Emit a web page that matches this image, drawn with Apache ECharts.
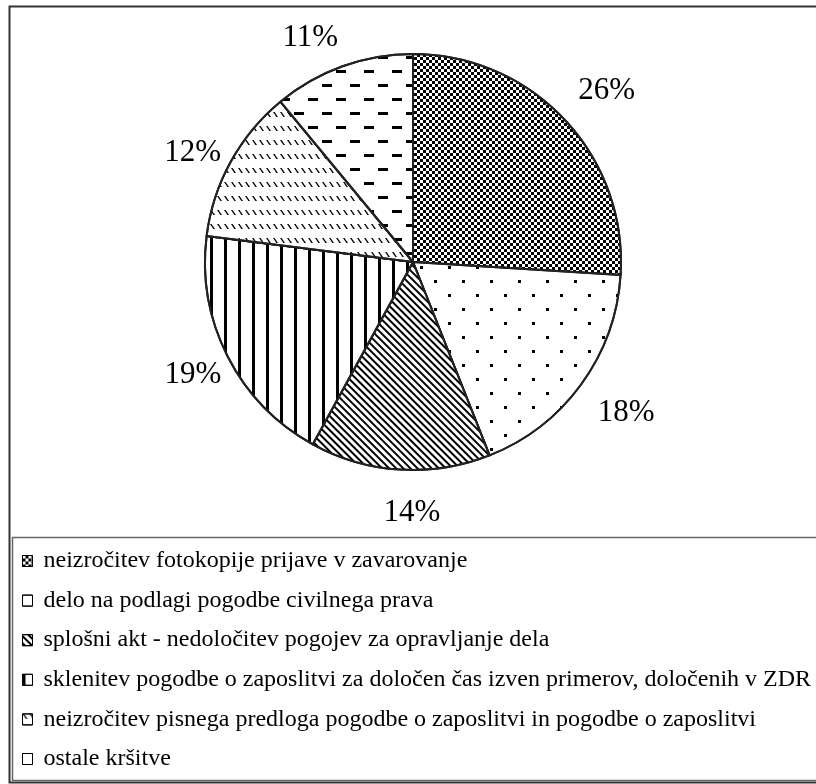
<!DOCTYPE html>
<html>
<head>
<meta charset="utf-8">
<script src="https://cdn.jsdelivr.net/npm/echarts@6/dist/echarts.min.js"></script>
<style>
html,body{margin:0;padding:0;background:#fff;}
#chart{width:816px;height:784px;}
</style>
</head>
<body>
<div id="chart"></div>
<script>
// ---- data ----
var categories = [
  'neizročitev fotokopije prijave v zavarovanje',
  'delo na podlagi pogodbe civilnega prava',
  'splošni akt - nedoločitev pogojev za opravljanje dela',
  'sklenitev pogodbe o zaposlitvi za določen čas izven primerov, določenih v ZDR',
  'neizročitev pisnega predloga pogodbe o zaposlitvi in pogodbe o zaposlitvi',
  'ostale kršitve'
];
var values = [26, 18, 14, 19, 12, 11];

// ---- patterns and label nudges (styles, not data) ----
var decals = [
  {symbol:'rect', symbolSize:1, dashArrayX:[[3,3],[0,3,3,0]], dashArrayY:[3,0], color:'#000'},
  {symbol:'rect', symbolSize:1, dashArrayX:[[3,25],[0,14,3,11]], dashArrayY:[3,11], color:'#000'},
  {symbol:'rect', symbolSize:1, dashArrayX:[20,0], dashArrayY:[1.4,2.2], rotation:Math.PI/4, color:'#000'},
  {symbol:'rect', symbolSize:1, dashArrayX:[3,11], dashArrayY:[14,0], color:'#000'},
  {symbol:'path://M0,0L1.6,0L5,5L3.4,5Z', symbolSize:1, dashArrayX:[5,2], dashArrayY:[5,9], color:'#000'},
  {symbol:'rect', symbolSize:1, dashArrayX:[[10,18],[0,14,10,4]], dashArrayY:[3,11], color:'#000'}
];
var labelNudge = [[7,4],[6,0],[15,-5],[8,-3],[4,14],[-16,17]];

var font = "'Liberation Serif', 'Times New Roman', serif";
var cx = 413, cy = 262;

var pieData = categories.map(function(n, i){
  return {name:n, value:values[i], itemStyle:{color:'#fff', decal:decals[i]}};
});
var labelData = categories.map(function(n, i){
  return {name:n, value:values[i]};
});

var chart = echarts.init(document.getElementById('chart'), null, {renderer:'canvas'});
chart.setOption({
  backgroundColor:'#fff',
  animation:false,
  graphic:[
    {type:'rect', shape:{x:9.5, y:6.5, width:900, height:776}, style:{fill:'none', stroke:'#333', lineWidth:2}, silent:true, z:-10},
    {type:'rect', shape:{x:12.5, y:537.5, width:900, height:243}, style:{fill:'none', stroke:'#666', lineWidth:1.5}, silent:true, z:-10}
  ],
  legend:{
    orient:'vertical',
    left:22, top:549,
    padding:0,
    itemWidth:10, itemHeight:11,
    itemGap:15.6,
    icon:'rect',
    selectedMode:false,
    data:categories,
    itemStyle:{borderColor:'#000', borderWidth:1},
    textStyle:{fontFamily:font, fontSize:24, color:'#000', lineHeight:24, padding:[0,0,0,6]}
  },
  series:[
    {
      type:'pie',
      center:[cx, cy],
      radius:[0, 208],
      startAngle:90,
      clockwise:true,
      silent:true,
      label:{show:false},
      labelLine:{show:false},
      itemStyle:{borderColor:'#222', borderWidth:2},
      emphasis:{disabled:true},
      data:pieData
    },
    {
      type:'pie',
      center:[cx, cy],
      radius:[244, 262],
      startAngle:90,
      clockwise:true,
      silent:true,
      itemStyle:{color:'rgba(0,0,0,0)', borderWidth:0},
      label:{show:true, position:'inside', formatter:'{c}%', fontFamily:font, fontSize:31, color:'#000'},
      labelLine:{show:false},
      labelLayout:function(p){
        var d = labelNudge[p.dataIndex];
        return {dx:d[0], dy:d[1]};
      },
      emphasis:{disabled:true},
      data:labelData
    }
  ]
});
</script>
</body>
</html>
